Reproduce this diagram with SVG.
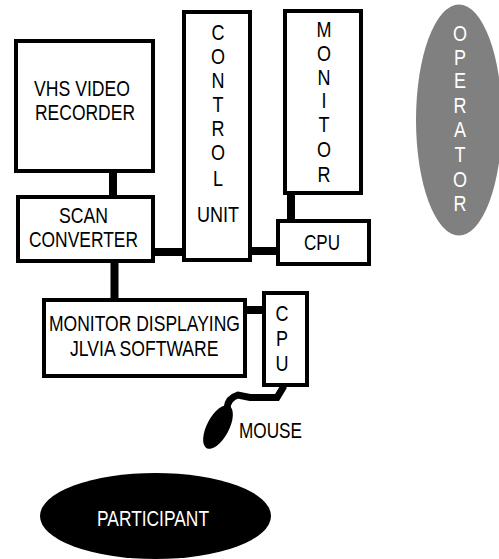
<svg xmlns="http://www.w3.org/2000/svg" width="499" height="559" viewBox="0 0 499 559">
<style>
.b{fill:#fff;stroke:#000;stroke-width:4}
.t{font-family:"Liberation Sans",Arial,sans-serif;font-size:22px;fill:#000}
.m{text-anchor:middle}
.w{fill:#fff}
.c{stroke:#000;stroke-width:8;fill:none}
</style>
<rect width="499" height="559" fill="#fff"/>
<g id="connectors">
<path class="c" d="M113 173V195M114.500 262V298M155 252H182M250 251H276M291 195V220M247 310H262"/>
<path d="M284 386L277 397.500H250L238 395Q228 398 227 408" stroke="#000" stroke-width="7" fill="none"/>
</g>
<g id="vhs"><rect class="b" x="16" y="41" width="137" height="130"/><text class="t" x="34" y="96" textLength="96" lengthAdjust="spacingAndGlyphs">VHS VIDEO</text><text class="t" x="35" y="120" textLength="100" lengthAdjust="spacingAndGlyphs">RECORDER</text></g>
<g id="scan"><rect class="b" x="18" y="197" width="135" height="64"/><text class="t" x="59" y="223" textLength="49" lengthAdjust="spacingAndGlyphs">SCAN</text><text class="t" x="29" y="247" textLength="109" lengthAdjust="spacingAndGlyphs">CONVERTER</text></g>
<g id="control"><rect class="b" x="184" y="12" width="66" height="248"/>
<text class="t m" transform="translate(218 0) scale(.82 1)"><tspan x="0" y="40">C</tspan><tspan x="0" y="64">O</tspan><tspan x="0" y="88">N</tspan><tspan x="0" y="112">T</tspan><tspan x="0" y="136">R</tspan><tspan x="0" y="160">O</tspan><tspan x="0" y="186">L</tspan><tspan x="0" y="222">UNIT</tspan></text></g>
<g id="monitor"><rect class="b" x="285" y="11" width="76" height="182"/>
<text class="t m" transform="translate(324 0) scale(.82 1)"><tspan x="0" y="37">M</tspan><tspan x="0" y="61">O</tspan><tspan x="0" y="85">N</tspan><tspan x="0" y="108">I</tspan><tspan x="0" y="132">T</tspan><tspan x="0" y="157">O</tspan><tspan x="0" y="182">R</tspan></text></g>
<g id="cpu1"><rect class="b" x="278" y="221" width="91" height="43"/><text class="t" x="304" y="250" textLength="36" lengthAdjust="spacingAndGlyphs">CPU</text></g>
<g id="display"><rect class="b" x="44" y="300" width="201" height="76"/><text class="t" transform="translate(49 331) scale(.796 1)">MONITOR DISPLAYING</text><text class="t" transform="translate(70 356) scale(.8 1)">JLVIA SOFTWARE</text></g>
<g id="cpu2"><rect class="b" x="264" y="293" width="43" height="92"/>
<text class="t m" transform="translate(282 0) scale(.82 1)"><tspan x="0" y="321">C</tspan><tspan x="0" y="346">P</tspan><tspan x="0" y="371">U</tspan></text></g>
<g id="mouse"><ellipse cx="218" cy="427" rx="11" ry="24" transform="rotate(28 218 427)"/><text class="t" x="239" y="438" textLength="63" lengthAdjust="spacingAndGlyphs">MOUSE</text></g>
<g id="participant"><ellipse cx="155.500" cy="516" rx="115.500" ry="43"/><text class="t w" x="97" y="526" textLength="112" lengthAdjust="spacingAndGlyphs">PARTICIPANT</text></g>
<g id="operator"><ellipse cx="459" cy="120" rx="43" ry="115.500" fill="#808080"/>
<text class="t m w" transform="translate(460 0) scale(.82 1)"><tspan x="0" y="41">O</tspan><tspan x="0" y="65">P</tspan><tspan x="0" y="88">E</tspan><tspan x="0" y="113">R</tspan><tspan x="0" y="137">A</tspan><tspan x="0" y="162">T</tspan><tspan x="0" y="187">O</tspan><tspan x="0" y="211">R</tspan></text></g>
</svg>
